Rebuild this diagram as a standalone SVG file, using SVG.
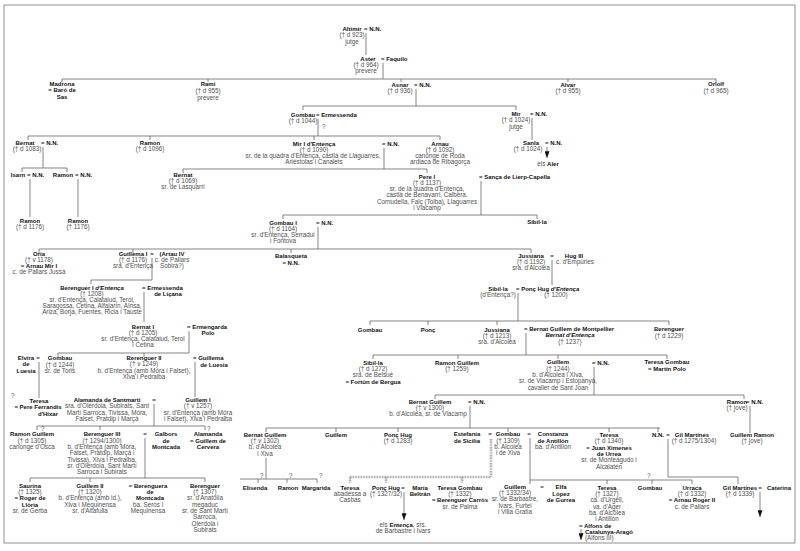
<svg xmlns="http://www.w3.org/2000/svg" width="800" height="551" viewBox="0 0 800 551">
<defs>
<style>
text{font-family:"Liberation Sans",Arial,sans-serif;font-size:6px;text-anchor:middle}
.n{font-weight:bold;fill:#111;font-size:6px}
.d{fill:#505050;font-size:6.3px}
.s{text-anchor:start}
.i{font-style:italic}
#conn path{stroke:#666;stroke-width:0.8;fill:none}
#conn .h{stroke:#999;stroke-width:2.6;stroke-dasharray:0.8 0.8}
#conn .a{marker-end:url(#arr)}
</style>
<marker id="arr" viewBox="0 0 8 6" refX="8" refY="3" markerWidth="8" markerHeight="5" orient="auto" markerUnits="userSpaceOnUse"><path d="M0,0 L8,3 L0,6 Z" fill="#111"/></marker>
</defs>
<rect x="0" y="0" width="800" height="551" fill="#fff"/>
<rect x="4" y="5" width="791" height="538" fill="none" stroke="#999" stroke-width="1.1"/>
<g id="conn">
<path d="M366,33V55 M383,63V79 M62,79H716 M62,79V82 M208,79V82 M401,79V82 M568,79V82 M716,79V82"/>
<path d="M416,89V106 M303,106H516 M303,106V110 M516,106V110"/>
<path d="M318,119V136 M28,136H440 M28,136V140 M150,136V140 M314,136V140 M440,136V140"/>
<path d="M532,118V140"/>
<path class="a" d="M547,147V158"/>
<path d="M43,147V168 M22,168H67 M22,168V172 M67,168V172 M30,179V217 M78,179V217"/>
<path d="M384,148V169 M183,169H427 M183,169V173 M427,169V173"/>
<path d="M481,181V215 M283,215H537 M283,215V219 M537,215V219"/>
<path d="M318,227V249 M39,249H531 M39,249V253 M133,249V253 M291,249V253 M531,249V253"/>
<path d="M152,258V280 M91,280H152 M91,280V284"/>
<path d="M144,292V322 M189,331V353 M58,353H189 M58,353V357 M144,353V357"/>
<path d="M39,362V398 M195,362V397"/>
<path d="M154,404V426 M37,426H205 M37,426V430 M100,426V430 M205,426V430"/>
<path d="M145,438V478 M30,478H205 M30,478V482 M90,478V482 M205,478V482"/>
<path d="M552,260V285"/>
<path d="M518,293V321 M370,321H669 M370,321V325 M428,321V325 M497,321V325 M669,321V325"/>
<path d="M526,333V355 M373,355H667 M373,355V359 M458,355V359 M558,355V359 M667,355V359"/>
<path d="M594,367V395 M435,395H744 M435,395V399 M744,395V399"/>
<path d="M750,406V433"/>
<path d="M470,406V428 M266,428H660 M266,428V432 M336,428V432 M398,428V432 M508,428V432 M609,428V432 M658,428V432"/>
<path d="M266,458V479 M240,479H317 M258,479V483 M287,479V483 M317,479V483"/>
<path class="h" d="M491,439V477 M350,477H491 M350,477V483 M386,477V483 M462,477V483"/>
<path d="M530,438V484 M530,480H692 M607,480V484 M652,480V484 M692,480V484"/>
<path d="M668,439V477 M668,477H738 M738,477V484"/>
<path class="a" d="M404,492V520"/>
<path class="a" d="M581,529V540"/>
<path class="a" d="M760,492V517"/>
</g>
<g id="altimir"><text class="n" x="352" y="31">Altimir</text><text class="n s" x="364" y="31">= N.N.</text><text class="d" x="352" y="37">(† d 923)</text><text class="d" x="352" y="44">jutge</text></g>
<g id="aster"><text class="n" x="368" y="61">Aster</text><text class="n s" x="381" y="61">= Faquilo</text><text class="d" x="366" y="67">(† d 964)</text><text class="d" x="366" y="73">prevere</text></g>
<g id="madrona"><text class="n" x="62" y="86">Madrona</text><text class="n" x="62" y="92">= Baró de</text><text class="n" x="62" y="99">Sas</text></g>
<g id="rami"><text class="n" x="208" y="86">Rami</text><text class="d" x="208" y="93">(† d 955)</text><text class="d" x="208" y="100">prevere</text></g>
<g id="asnar"><text class="n" x="400" y="87">Asnar</text><text class="n s" x="414" y="87">= N.N.</text><text class="d" x="400" y="93">(† d 936)</text></g>
<g id="alvar"><text class="n" x="568" y="87">Alvar</text><text class="d" x="568" y="93">(† d 955)</text></g>
<g id="orlolf"><text class="n" x="716" y="86">Orlolf</text><text class="d" x="716" y="93">(† d 965)</text></g>
<g id="gombau1044"><text class="n" x="303" y="117">Gombau</text><text class="n s" x="316" y="117">= Ermessenda</text><text class="d" x="303" y="123">(† d 1044)</text><text class="d s" x="322" y="129">?</text></g>
<g id="mir1024"><text class="n" x="516" y="116">Mir</text><text class="n s" x="530" y="116">= N.N.</text><text class="d" x="516" y="122">(† d 1024)</text><text class="d" x="516" y="129">jutge</text></g>
<g id="sanla"><text class="n" x="531" y="145">Sanla</text><text class="n s" x="545" y="145">= N.N.</text><text class="d" x="528" y="151">(† d 1024)</text></g>
<g id="aler"><text class="d" x="548" y="166">els <tspan class="n">Aler</tspan></text></g>
<g id="bernat1083"><text class="n" x="25" y="145">Bernat</text><text class="n s" x="41" y="145">= N.N.</text><text class="d" x="27" y="151">(† d 1083)</text></g>
<g id="ramon1096"><text class="n" x="150" y="145">Ramon</text><text class="d" x="150" y="151">(† d 1096)</text></g>
<g id="mir1"><text class="n" x="314" y="146">Mir I d'Entença</text><text class="n s" x="382" y="146">= N.N.</text><text class="d" x="314" y="152">(† d 1090)</text><text class="d" x="313" y="158">sr. de la quadra d'Entença, castlà de Llaguarres,</text><text class="d" x="314" y="164">Ariéstolas i Canalets</text></g>
<g id="arnau"><text class="n" x="440" y="146">Arnau</text><text class="d" x="440" y="152">(† d 1092)</text><text class="d" x="440" y="158">canonge de Roda</text><text class="d" x="440" y="164">ardiaca de Ribagorça</text></g>
<g id="isarn"><text class="n" x="18" y="177">Isarn</text><text class="n s" x="27" y="177">= N.N.</text></g>
<g id="ramonb"><text class="n" x="63" y="177">Ramon</text><text class="n s" x="75" y="177">= N.N.</text></g>
<g id="ramon1176a"><text class="n" x="30" y="223">Ramon</text><text class="d" x="30" y="229">(† d 1176)</text></g>
<g id="ramon1176b"><text class="n" x="78" y="223">Ramon</text><text class="d" x="78" y="229">(† 1176)</text></g>
<g id="bernat1069"><text class="n" x="183" y="177">Bernat</text><text class="d" x="183" y="183">(† d 1069)</text><text class="d" x="183" y="189">sr. de Lasquarri</text></g>
<g id="pere1"><text class="n" x="427" y="179">Pere I</text><text class="n s" x="479" y="179">= Sança de Lierp-Capella</text><text class="d" x="427" y="185">(† d 1137)</text><text class="d" x="427" y="191">sr. de la quadra d'Entença,</text><text class="d" x="427" y="197">castlà de Benavarri, Calbera,</text><text class="d" x="427" y="204">Cornudella, Falç (Tolba), Llaguarres</text><text class="d" x="427" y="210">i Viacamp</text></g>
<g id="gombau1"><text class="n" x="283" y="225">Gombau I</text><text class="n s" x="316" y="225">= N.N.</text><text class="d" x="283" y="231">(† d 1164)</text><text class="d" x="283" y="237">sr. d'Entença, Serradui</text><text class="d" x="283" y="243">i Fontova</text></g>
<g id="sibilla1"><text class="n" x="537" y="224">Sibil·la</text></g>
<g id="oria"><text class="n" x="39" y="256">Oria</text><text class="d" x="39" y="262">(† v 1178)</text><text class="n" x="39" y="268">= Arnau Mir I</text><text class="d" x="39" y="274">c. de Pallars Jussà</text></g>
<g id="guillema1"><text class="n" x="133" y="256">Guillema I</text><text class="d" x="133" y="262">(† d 1176)</text><text class="d" x="133" y="268">sra. d'Entença</text><text class="n" x="152" y="256">=</text><text class="n" x="172" y="256">(Artau IV</text><text class="d" x="172" y="262">c. de Pallars</text><text class="d" x="172" y="268">Sobirà?)</text></g>
<g id="balasqueta"><text class="n" x="291" y="258">Balasqueta</text><text class="n" x="291" y="265">= N.N.</text></g>
<g id="jussiana1192"><text class="n" x="531" y="258">Jussiana</text><text class="d" x="531" y="264">(† d 1192)</text><text class="d" x="531" y="270">sra. d'Alcolea</text><text class="n" x="552" y="258">=</text><text class="n" x="574" y="258">Hug III</text><text class="d" x="575" y="264">c. d'Empúries</text></g>
<g id="berenguer1"><text class="n" x="92" y="290">Berenguer I <tspan class="i">d'Entença</tspan></text><text class="d" x="92" y="296">(† 1208)</text><text class="d" x="92" y="302">sr. d'Entença, Calataiud, Terol,</text><text class="d" x="92" y="308">Saragossa, Cetina, Alfajarín, Aïnsa,</text><text class="d" x="92" y="314">Ariza, Borja, Fuentes, Ricla i Tauste</text><text class="n s" x="142" y="290">= Ermessenda</text><text class="n" x="168" y="296">de Liçana</text></g>
<g id="bernat1"><text class="n" x="143" y="329">Bernat I</text><text class="d" x="143" y="335">(† d 1205)</text><text class="d" x="143" y="341">sr. d'Entença, Calataiud, Terol</text><text class="d" x="143" y="347">i Cetina</text><text class="n s" x="187" y="329">= Ermengarda</text><text class="n" x="208" y="335">Polo</text></g>
<g id="elvira"><text class="n" x="26" y="360">Elvira</text><text class="n" x="26" y="366">de</text><text class="n" x="26" y="373">Luesia</text><text class="n" x="38" y="360">=</text></g>
<g id="gombau1244"><text class="n" x="60" y="360">Gombau</text><text class="d" x="60" y="367">(† d 1244)</text><text class="d" x="60" y="373">sr. de Toris</text></g>
<g id="berenguer2"><text class="n" x="144" y="360">Berenguer II</text><text class="d" x="144" y="366">(† v 1249)</text><text class="d" x="144" y="373">b. d'Entença (amb Móra i Falset),</text><text class="d" x="144" y="379">Xiva i Pedralba</text><text class="n s" x="193" y="360">= Guillema</text><text class="n" x="214" y="367">de Luesia</text></g>
<g id="teresa-hixar"><text class="d s" x="11" y="398">?</text><text class="n" x="39" y="403">Teresa</text><text class="n" x="38" y="409">= Pere Ferrandis</text><text class="n" x="48" y="416">d'Híxar</text></g>
<g id="alamanda-santmarti"><text class="n" x="107" y="402">Alamanda de Santmartí</text><text class="d" x="107" y="408">sra. d'Olèrdola, Subirats, Sant</text><text class="d" x="107" y="415">Martí Sarroca, Tivissa, Móra,</text><text class="d" x="107" y="421">Falset, Pratdip i Marçà</text><text class="n" x="154" y="402">=</text></g>
<g id="guillem1"><text class="n" x="198" y="402">Guillem I</text><text class="d" x="198" y="408">(† v 1257)</text><text class="d" x="198" y="415">sr. d'Entença (amb Móra</text><text class="d" x="198" y="421">i Falset), Xiva i Pedralba</text></g>
<g id="ramonguillem1305"><text class="d s" x="41" y="431">?</text><text class="n" x="32" y="436">Ramon Guillem</text><text class="d" x="32" y="443">(† d 1305)</text><text class="d" x="32" y="449">canonge d'Osca</text></g>
<g id="berenguer3"><text class="n" x="102" y="436">Berenguer III</text><text class="d" x="102" y="443">(† 1294/1300)</text><text class="d" x="102" y="449">b. d'Entença (amb Móra,</text><text class="d" x="102" y="455">Falset, Pratdip, Marçà i</text><text class="d" x="102" y="462">Tivissa), Xiva i Pedralba,</text><text class="d" x="102" y="468">sr. d'Olèrdola, Sant Martí</text><text class="d" x="102" y="474">Sarroca i Subirats</text></g>
<g id="galbors"><text class="n" x="145" y="436">=</text><text class="n" x="166" y="436">Galbors</text><text class="n" x="166" y="443">de</text><text class="n" x="166" y="449">Montcada</text></g>
<g id="alamanda"><text class="d s" x="207" y="431">?</text><text class="n" x="208" y="436">Alamanda</text><text class="n" x="208" y="443">= Guillem de</text><text class="n" x="208" y="449">Cervera</text></g>
<g id="saurina"><text class="n" x="30" y="488">Saurina</text><text class="d" x="30" y="494">(† 1325)</text><text class="n" x="30" y="500">= Roger de</text><text class="n" x="30" y="507">Llòria</text><text class="d" x="30" y="513">sr. de Gerba</text></g>
<g id="guillem2"><text class="n" x="90" y="488">Guillem II</text><text class="d" x="90" y="494">(† 1320)</text><text class="d" x="90" y="500">b. d'Entença (amb id.),</text><text class="d" x="90" y="507">Xiva i Mequinensa</text><text class="d" x="90" y="513">sr. d'Altafulla</text></g>
<g id="berenguera"><text class="n" x="148" y="488">= Berenguera</text><text class="n" x="150" y="494">de</text><text class="n" x="150" y="500">Montcada</text><text class="d" x="148" y="507">ba. Seròs i</text><text class="d" x="148" y="513">Mequinensa</text></g>
<g id="berenguer1307"><text class="n" x="205" y="488">Berenguer</text><text class="d" x="205" y="494">(† 1307)</text><text class="d" x="205" y="500">sr. d'Anatòlia</text><text class="d" x="205" y="507">megaduc</text><text class="d" x="205" y="513">sr. de Sant Martí</text><text class="d" x="205" y="519">Sarroca,</text><text class="d" x="205" y="526">Olèrdola i</text><text class="d" x="205" y="532">Subirats</text></g>
<g id="sibilla2"><text class="n" x="498" y="291">Sibil·la</text><text class="d" x="498" y="297">(d'Entença?)</text></g>
<g id="poncHug1200"><text class="n s" x="516" y="291">= Ponç Hug <tspan class="i">d'Entença</tspan></text><text class="d" x="556" y="297">(† 1200)</text></g>
<g id="gombau-b"><text class="n" x="370" y="332">Gombau</text></g>
<g id="ponc"><text class="n" x="428" y="332">Ponç</text></g>
<g id="jussiana1213"><text class="n" x="497" y="332">Jussiana</text><text class="d" x="497" y="338">(† d 1213)</text><text class="d" x="497" y="344">sra. d'Alcolea</text></g>
<g id="bernatguillem-montpellier"><text class="n s" x="524" y="331">= Bernat Guillem de Montpellier</text><text class="n i" x="570" y="337">Bernat d'Entença</text><text class="d" x="570" y="344">(† 1237)</text></g>
<g id="berenguer1229"><text class="n" x="669" y="331">Berenguer</text><text class="d" x="669" y="338">(† d 1229)</text></g>
<g id="sibilla1272"><text class="n" x="373" y="365">Sibil·la</text><text class="d" x="373" y="371">(† d 1272)</text><text class="d" x="373" y="377">sra. de Belsué</text><text class="n" x="373" y="384">= Fortún de Bergua</text></g>
<g id="ramonguillem1259"><text class="n" x="457" y="365">Ramon Guillem</text><text class="d" x="457" y="371">(† 1259)</text></g>
<g id="guillem1244"><text class="n" x="558" y="364">Guillem</text><text class="n s" x="592" y="365">= N.N.</text><text class="d" x="558" y="371">(† 1244)</text><text class="d" x="558" y="377">b. d'Alcolea i Xiva,</text><text class="d" x="558" y="383">sr. de Viacamp i Estopanyà,</text><text class="d" x="558" y="390">cavaller de Sant Joan</text></g>
<g id="teresagombau-polo"><text class="n" x="667" y="364">Teresa Gombau</text><text class="n" x="667" y="371">= Martín Polo</text></g>
<g id="bernatguillem1300"><text class="n" x="430" y="404">Bernat Guillem</text><text class="n s" x="468" y="404">= N.N.</text><text class="d" x="430" y="410">(† v 1300)</text><text class="d" x="428" y="416">b. d'Alcolea, sr. de Viacamp</text></g>
<g id="ramonjove"><text class="n" x="737" y="404">Ramon</text><text class="n s" x="746" y="404">= N.N.</text><text class="d" x="737" y="410">(† jove)</text></g>
<g id="guillemramon"><text class="n" x="752" y="437">Guillem Ramon</text><text class="d" x="752" y="443">(† jove)</text></g>
<g id="bernatguillem1302"><text class="n" x="265" y="437">Bernat Guillem</text><text class="d" x="265" y="443">(† v 1302)</text><text class="d" x="265" y="449">b. d'Alcolea</text><text class="d" x="265" y="456">i Xiva</text></g>
<g id="guillem-c"><text class="n" x="336" y="437">Guillem</text></g>
<g id="poncHug1283"><text class="n" x="398" y="437">Ponç Hug</text><text class="d" x="398" y="443">(† d 1283)</text></g>
<g id="estefania"><text class="n" x="467" y="436">Estefania</text><text class="n" x="467" y="443">de Sicília</text><text class="n" x="490" y="436">=</text></g>
<g id="gombau1309"><text class="n" x="508" y="436">Gombau</text><text class="d" x="508" y="443">(† 1309)</text><text class="d" x="508" y="449">b. Alcolea</text><text class="d" x="508" y="455">i de Xiva</text></g>
<g id="constanza"><text class="n" x="529" y="436">=</text><text class="n" x="553" y="436">Constanza</text><text class="n" x="553" y="443">de Antillón</text><text class="d" x="553" y="449">ba. d'Antillón</text></g>
<g id="teresa1340"><text class="n" x="609" y="437">Teresa</text><text class="d" x="609" y="443">(† d 1340)</text><text class="n" x="609" y="450">= Juan Ximenes</text><text class="n" x="609" y="456">de Urrea</text><text class="d" x="609" y="462">sr. de Monteagudo i</text><text class="d" x="609" y="469">Alcalatén</text></g>
<g id="gilmartines1304"><text class="n" x="658" y="437">N.N.</text><text class="n" x="668" y="437">=</text><text class="n" x="692" y="437">Gil Martines</text><text class="d" x="694" y="443">(† d 1275/1304)</text></g>
<g id="elisenda"><text class="d s" x="260" y="478">?</text><text class="n" x="255" y="490">Elisenda</text></g>
<g id="ramon-e"><text class="d s" x="289" y="478">?</text><text class="n" x="288" y="490">Ramon</text></g>
<g id="margarida"><text class="d s" x="319" y="478">?</text><text class="n" x="316" y="490">Margarida</text></g>
<g id="teresa-casbas"><text class="n" x="350" y="490">Teresa</text><text class="d" x="350" y="496">abadessa a</text><text class="d" x="350" y="502">Casbas</text></g>
<g id="poncHug1327"><text class="n" x="386" y="490">Ponç Hug</text><text class="d" x="386" y="496">(† 1327/32)</text><text class="n" x="403" y="490">=</text><text class="n" x="420" y="490">María</text><text class="n" x="420" y="496">Beltrán</text></g>
<g id="entenca-barbastre"><text class="d" x="403" y="527">els <tspan class="n">Entença</tspan>, srs.</text><text class="d" x="403" y="533">de Barbastre i Ivars</text></g>
<g id="teresagombau1332"><text class="n" x="460" y="490">Teresa Gombau</text><text class="d" x="460" y="496">(† 1332)</text><text class="n" x="460" y="502">= Berenguer Carròs</text><text class="d" x="460" y="509">sr. de Palma</text></g>
<g id="guillem1332"><text class="n" x="515" y="489">Guillem</text><text class="d" x="515" y="495">(† 1332/34)</text><text class="d" x="515" y="501">sr. de Barbastre,</text><text class="d" x="515" y="508">Ivars, Furtei</text><text class="d" x="515" y="514">i Villa Gratia</text></g>
<g id="elfa"><text class="n" x="542" y="489">=</text><text class="n" x="561" y="489">Elfa</text><text class="n" x="561" y="496">López</text><text class="n" x="561" y="502">de Gurrea</text></g>
<g id="teresa1327"><text class="n" x="607" y="490">Teresa</text><text class="d" x="607" y="496">(† 1327)</text><text class="d" x="607" y="502">ca. d'Urgell,</text><text class="d" x="607" y="509">va. d'Àger</text><text class="d" x="607" y="515">ba. d'Alcolea</text><text class="d" x="607" y="521">i Antillón</text><text class="n s" x="579" y="528">= Alfons de</text><text class="n s" x="585" y="534">Catalunya-Aragó</text><text class="d s" x="585" y="540">(Alfons III)</text></g>
<g id="gombau-d"><text class="d s" x="647" y="478">?</text><text class="n" x="650" y="490">Gombau</text></g>
<g id="urraca"><text class="n" x="692" y="490">Urraca</text><text class="d" x="692" y="496">(† d 1332)</text><text class="n" x="692" y="502">= Arnau Roger II</text><text class="d" x="692" y="509">c. de Pallars</text></g>
<g id="gilmartines1339"><text class="n" x="740" y="490">Gil Martines</text><text class="d" x="740" y="496">(† d 1339)</text><text class="n" x="760" y="490">=</text><text class="n" x="779" y="490">Caterina</text></g>
</svg>
